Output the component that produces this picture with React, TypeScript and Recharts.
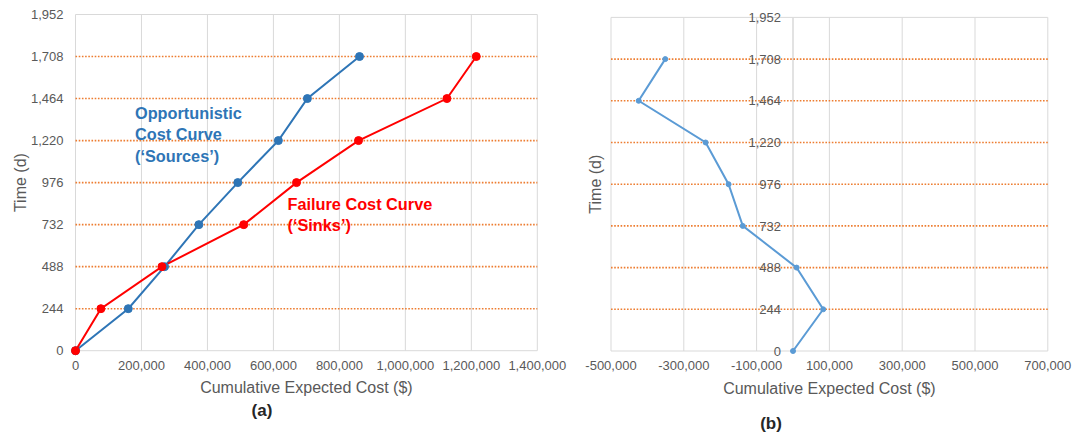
import { CartesianGrid, Label, LabelList, Line, LineChart, ReferenceLine, XAxis, YAxis } from "recharts"

// time steps (d) shared by both panels
const timeTicks = [0, 244, 488, 732, 976, 1220, 1464, 1708, 1952]
const stepTimes = [0, 244, 488, 732, 976, 1220, 1464, 1708]
const dottedTimes = [244, 488, 732, 976, 1220, 1464, 1708]

// panel (a): cumulative expected cost ($)
const opportunisticCost = [0, 160000, 270000, 374000, 492000, 615000, 703000, 861000]
const failureCost = [0, 77000, 262000, 510000, 670000, 858000, 1126000, 1215000]
const costTicksA = [0, 200000, 400000, 600000, 800000, 1000000, 1200000, 1400000]

// panel (b): difference curve
const netCost = [0, 83000, 10000, -138000, -177000, -240000, -424000, -351000]
const costTicksB = [-500000, -300000, -100000, 100000, 300000, 500000, 700000]

const opportunisticData = stepTimes.map((t, i) => ({ time: t, cost: opportunisticCost[i] }))
const failureData = stepTimes.map((t, i) => ({ time: t, cost: failureCost[i] }))
const netData = stepTimes.map((t, i) => ({ time: t, cost: netCost[i] }))
const axisLabelData = timeTicks.map((t) => ({ time: t, cost: 0 }))

const FONT = "'Liberation Sans', Arial, sans-serif"
const GRID = "#d9d9d9"
const ORANGE = "#ED7D31"
const BLUE = "#2E75B6"
const RED = "#FF0000"
const LIGHT_BLUE = "#5B9BD5"
const TEXT = "#595959"

const fmt = (v: number) => v.toLocaleString("en-US")

function PanelA() {
  return (
    <LineChart
      width={580}
      height={435}
      margin={{ top: 14.5, right: 42.7, bottom: 34, left: 0 }}
      style={{ fontFamily: FONT }}
    >
      <CartesianGrid horizontal={false} stroke={GRID} />
      <ReferenceLine y={1952} stroke={GRID} />
      {dottedTimes.map((t) => (
        <ReferenceLine key={t} y={t} stroke={ORANGE} strokeWidth={1.6} strokeDasharray="1.6 1.6" />
      ))}
      <XAxis
        type="number"
        dataKey="cost"
        domain={[0, 1400000]}
        ticks={costTicksA}
        interval={0}
        tickFormatter={fmt}
        height={50.3}
        axisLine={{ stroke: GRID }}
        tickLine={false}
        tickSize={0}
        tickMargin={10}
        tick={{ fill: TEXT, fontSize: 13 }}
      >
        <Label value="Cumulative Expected Cost ($)" position="insideBottom" offset={7.7} fill={TEXT} fontSize={16} />
      </XAxis>
      <YAxis
        type="number"
        domain={[0, 1952]}
        ticks={timeTicks}
        interval={0}
        tickFormatter={fmt}
        width={75.5}
        axisLine={false}
        tickLine={false}
        tickSize={0}
        tickMargin={12}
        tick={{ fill: TEXT, fontSize: 13 }}
      >
        <Label
          value="Time (d)"
          angle={-90}
          position="insideLeft"
          offset={20}
          fill={TEXT}
          fontSize={16}
          style={{ textAnchor: "middle" }}
        />
      </YAxis>
      <Line
        data={opportunisticData}
        dataKey="time"
        stroke={BLUE}
        strokeWidth={2}
        dot={{ r: 4, fill: BLUE, stroke: BLUE, strokeWidth: 1 }}
        isAnimationActive={false}
      />
      <Line
        data={failureData}
        dataKey="time"
        stroke={RED}
        strokeWidth={2}
        dot={{ r: 4, fill: RED, stroke: RED, strokeWidth: 1 }}
        isAnimationActive={false}
      />
    </LineChart>
  )
}

function PanelB() {
  return (
    <LineChart
      width={528}
      height={435}
      margin={{ top: 17.4, right: 25.2, bottom: 34, left: 0 }}
      style={{ fontFamily: FONT }}
    >
      <CartesianGrid horizontal={false} stroke={GRID} />
      <ReferenceLine y={1952} stroke={GRID} />
      <ReferenceLine x={0} stroke={GRID} strokeWidth={1.5} />
      {dottedTimes.map((t) => (
        <ReferenceLine key={t} y={t} stroke={ORANGE} strokeWidth={1.6} strokeDasharray="1.6 1.6" />
      ))}
      <XAxis
        type="number"
        dataKey="cost"
        domain={[-500000, 700000]}
        ticks={costTicksB}
        interval={0}
        tickFormatter={fmt}
        height={50}
        axisLine={{ stroke: GRID }}
        tickLine={false}
        tickSize={0}
        tickMargin={10}
        tick={{ fill: TEXT, fontSize: 13 }}
      >
        <Label value="Cumulative Expected Cost ($)" position="insideBottom" offset={7} fill={TEXT} fontSize={16} />
      </XAxis>
      <YAxis
        type="number"
        domain={[0, 1952]}
        ticks={timeTicks}
        width={66}
        axisLine={false}
        tickLine={false}
        tick={false}
      >
        <Label
          value="Time (d)"
          angle={-90}
          position="insideLeft"
          offset={50}
          fill={TEXT}
          fontSize={16}
          style={{ textAnchor: "middle" }}
        />
      </YAxis>
      <Line
        data={netData}
        dataKey="time"
        stroke={LIGHT_BLUE}
        strokeWidth={2}
        dot={{ r: 2.5, fill: LIGHT_BLUE, stroke: LIGHT_BLUE, strokeWidth: 1 }}
        isAnimationActive={false}
      />
      {/* y tick labels sit on the zero line */}
      <Line
        data={axisLabelData}
        dataKey="time"
        stroke="none"
        dot={false}
        activeDot={false}
        isAnimationActive={false}
      >
        <LabelList dataKey="time" position="left" offset={12} formatter={(v: any) => fmt(Number(v))} fill={TEXT} fontSize={13} />
      </Line>
    </LineChart>
  )
}

const note = (color: string): React.CSSProperties => ({
  position: "absolute",
  fontFamily: FONT,
  fontWeight: "bold",
  fontSize: 16.3,
  lineHeight: "21.6px",
  color,
  whiteSpace: "nowrap",
})

const caption: React.CSSProperties = {
  position: "absolute",
  fontFamily: FONT,
  fontWeight: "bold",
  fontSize: 17,
  color: "#262626",
  transform: "translate(-50%, -50%)",
}

export default function App() {
  return (
    <div style={{ position: "absolute", left: 0, top: 0, width: 1073, height: 435, background: "#fff", overflow: "hidden" }}>
      <div style={{ position: "absolute", left: 0, top: 0 }}>
        <PanelA />
      </div>
      <div style={{ position: "absolute", left: 545, top: 0 }}>
        <PanelB />
      </div>
      <div style={{ ...note(BLUE), left: 135, top: 102.5 }}>
        Opportunistic
        <br />
        Cost Curve
        <br />
        (‘Sources’)
      </div>
      <div style={{ ...note(RED), left: 287.5, top: 193.5 }}>
        Failure Cost Curve
        <br />
        (‘Sinks’)
      </div>
      <div style={{ ...caption, left: 262, top: 410.5 }}>(a)</div>
      <div style={{ ...caption, left: 771, top: 424 }}>(b)</div>
    </div>
  )
}
